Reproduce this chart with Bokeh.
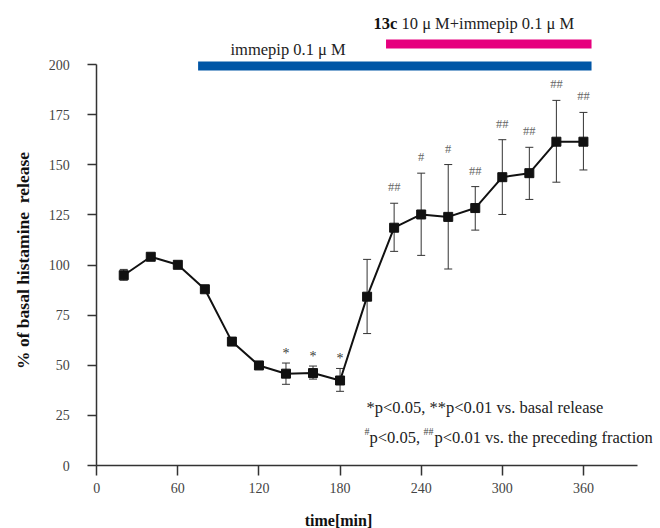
import math
from bokeh.plotting import figure
from bokeh.models import ColumnDataSource, Whisker, TeeHead, FixedTicker, Range1d
from bokeh.core.properties import value
from bokeh.embed import file_html
from bokeh.resources import INLINE

# ---- data ----
time_min = [20, 40, 60, 80, 100, 120, 140, 160, 180, 200, 220, 240, 260, 280, 300, 320, 340, 360]
release = [94.9, 104.1, 100.1, 87.9, 61.8, 49.9, 45.8, 46.1, 42.4, 84.2,
           118.6, 125.2, 124.0, 128.4, 143.8, 145.8, 161.5, 161.5]
err_upper = [97.8, 105.0, 101.0, 89.0, 63.0, 51.0, 51.1, 49.6, 48.4, 102.8,
             130.8, 145.8, 150.1, 139.1, 162.5, 158.7, 182.1, 176.1]
err_lower = [92.4, 103.2, 99.2, 86.8, 60.6, 48.8, 40.5, 43.1, 37.0, 65.8,
             106.8, 104.8, 98.0, 117.4, 125.2, 132.7, 141.3, 147.4]

star_times = [140, 160, 180]
hash_times = [220, 240, 260, 280, 300, 320, 340, 360]
hash_labels = ["##", "#", "#", "##", "##", "##", "##", "##"]

immepip_period = [75, 366]
combo_period = [214, 366]

x_ticks = [0, 60, 120, 180, 240, 300, 360]
y_ticks = [0, 25, 50, 75, 100, 125, 150, 175, 200]

# ---- layout helpers (pixel geometry of the canvas) ----
W, H = 660, 528
X0_PX, SX = 96.2, 1.352     # pixel of x=0, pixels per minute
Y0_PX, SY = 465.0, 2.005    # pixel of y=0, pixels per percent


def px_x(px):
    return (px - X0_PX) / SX


def px_y(py):
    return (Y0_PX - py) / SY


SERIF = "Liberation Serif"

src = ColumnDataSource(dict(t=time_min, r=release, up=err_upper, lo=err_lower))

p = figure(width=W, height=H,
           x_range=Range1d(px_x(0), px_x(W)), y_range=Range1d(px_y(H), px_y(0)),
           output_backend="svg", toolbar_location=None, min_border=0)
p.outline_line_color = None
p.xgrid.visible = False
p.ygrid.visible = False

for ax in (p.xaxis[0], p.yaxis[0]):
    ax.fixed_location = 0
    ax.axis_line_color = "#333333"
    ax.axis_line_width = 1.5
    ax.major_tick_line_color = "#333333"
    ax.major_tick_line_width = 1.5
    ax.major_tick_in = 0
    ax.minor_tick_line_color = None
    ax.major_label_text_font = SERIF
    ax.major_label_text_font_size = "14px"
    ax.major_label_text_color = "#444444"

p.xaxis.ticker = FixedTicker(ticks=x_ticks)
p.xaxis.bounds = (0, 400)
p.xaxis.major_tick_out = 10
p.xaxis.major_label_standoff = 7

p.yaxis.ticker = FixedTicker(ticks=y_ticks)
p.yaxis.bounds = (0, 200)
p.yaxis.major_tick_out = 9
p.yaxis.major_label_standoff = 18

# treatment bars
p.segment(x0=[immepip_period[0]], y0=[px_y(65.5)], x1=[immepip_period[1]], y1=[px_y(65.5)],
          line_width=9, line_color="#0056a6", line_cap="butt")
p.segment(x0=[combo_period[0]], y0=[px_y(43.5)], x1=[combo_period[1]], y1=[px_y(43.5)],
          line_width=9, line_color="#e6007e", line_cap="butt")

TXT = dict(text_font=value(SERIF), text_baseline="middle", text_align="left")
p.text(x=[px_x(230)], y=[px_y(49)], text=["immepip 0.1 \u03bc M"],
       text_font_size="16.5px", text_color="#222222", **TXT)
p.text(x=[px_x(373)], y=[px_y(22.5)], text=["13c"], text_font_style="bold",
       text_font_size="16.5px", text_color="#111111", **TXT)
p.text(x=[px_x(401)], y=[px_y(22.5)], text=["10 \u03bc M+immepip 0.1 \u03bc M"],
       text_font_size="16.5px", text_color="#222222", **TXT)

# error bars
wh = Whisker(base="t", upper="up", lower="lo", source=src, line_color="#333333", line_width=1,
             upper_head=TeeHead(size=8, line_color="#333333", line_width=1),
             lower_head=TeeHead(size=8, line_color="#333333", line_width=1))
p.add_layout(wh)

p.line("t", "r", source=src, line_color="#111111", line_width=2)
p.scatter("t", "r", source=src, marker="square", size=9, fill_color="#111111", line_color="#111111")

# significance marks above the error bars
up_by_t = dict(zip(time_min, err_upper))
p.text(x=star_times, y=[up_by_t[t] + 4.8 for t in star_times], text=["*"] * len(star_times),
       text_font=value(SERIF), text_font_size="14px", text_color="#3a3a3a",
       text_align="center", text_baseline="middle")
p.text(x=hash_times, y=[up_by_t[t] + 8 for t in hash_times], text=hash_labels,
       text_font=value(SERIF), text_font_size="12.5px", text_color="#666666",
       text_align="center", text_baseline="middle")

# significance legend
p.text(x=[px_x(366)], y=[px_y(407)], text=["*p<0.05, **p<0.01 vs. basal release"],
       text_font_size="16.5px", text_color="#222222", **TXT)
p.text(x=[px_x(364)], y=[px_y(431)], text=["#"],
       text_font_size="10px", text_color="#444444", **TXT)
p.text(x=[px_x(369)], y=[px_y(437)], text=["p<0.05,"],
       text_font_size="16.5px", text_color="#222222", **TXT)
p.text(x=[px_x(423)], y=[px_y(431)], text=["##"],
       text_font_size="10px", text_color="#444444", **TXT)
p.text(x=[px_x(434)], y=[px_y(437)], text=["p<0.01 vs. the preceding fraction"],
       text_font_size="16.5px", text_color="#222222", **TXT)

# axis titles
p.text(x=[px_x(338)], y=[px_y(520)], text=["time[min]"], text_font=value(SERIF),
       text_font_style="bold", text_font_size="16px", text_color="#111111",
       text_align="center", text_baseline="middle")
p.text(x=[px_x(22)], y=[px_y(260)], text=["% of basal histamine \u00a0release"], angle=math.pi / 2,
       text_font=value(SERIF), text_font_style="bold", text_font_size="17.5px",
       text_color="#111111", text_align="center", text_baseline="middle")

open("out.html", "w").write(file_html(p, INLINE))
